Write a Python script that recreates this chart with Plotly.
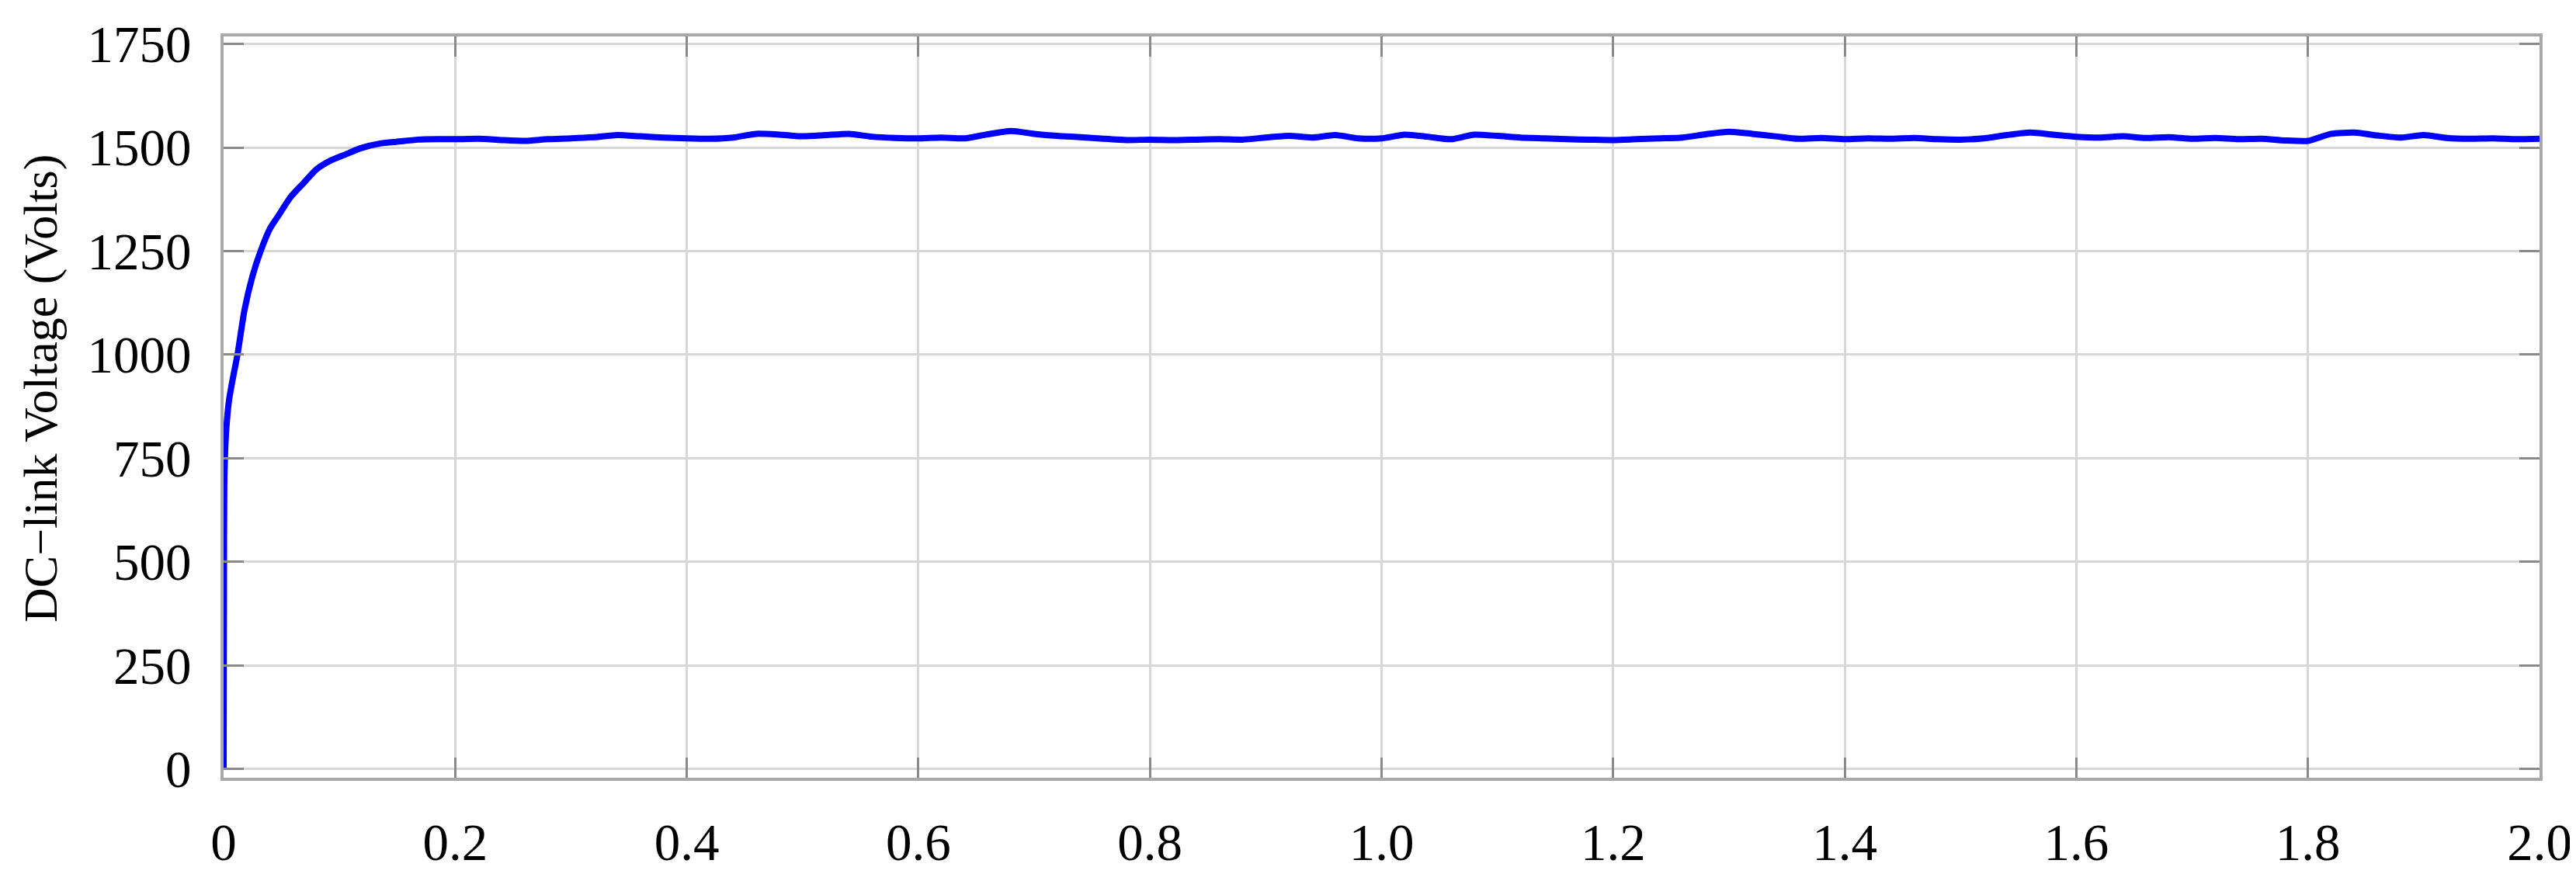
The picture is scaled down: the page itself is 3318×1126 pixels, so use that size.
import plotly.graph_objects as go

# ---- data ----
t_rise = [0, 0.0003, 0.0006, 0.002, 0.0047, 0.0085, 0.012, 0.018, 0.025, 0.032,
          0.040, 0.047, 0.058, 0.069, 0.080, 0.092, 0.105, 0.118, 0.136, 0.150,
          0.168, 0.185]
v_rise = [0, 441, 688, 806, 890, 950, 1000, 1107, 1190, 1250,
          1304, 1334, 1381, 1414, 1447, 1468, 1483, 1498, 1510, 1514,
          1519, 1520]

t_steady = [0.20, 0.22, 0.24, 0.26, 0.28, 0.30, 0.32, 0.34, 0.36, 0.38,
            0.40, 0.42, 0.44, 0.46, 0.48, 0.50, 0.52, 0.54, 0.56, 0.58,
            0.60, 0.62, 0.64, 0.66, 0.68, 0.70, 0.72, 0.74, 0.76, 0.78,
            0.80, 0.82, 0.84, 0.86, 0.88, 0.90, 0.92, 0.94, 0.96, 0.98,
            1.00, 1.02, 1.04, 1.06, 1.08, 1.10, 1.12, 1.14, 1.16, 1.18,
            1.20, 1.22, 1.24, 1.26, 1.28, 1.30, 1.32, 1.34, 1.36, 1.38,
            1.40, 1.42, 1.44, 1.46, 1.48, 1.50, 1.52, 1.54, 1.56, 1.58,
            1.60, 1.62, 1.64, 1.66, 1.68, 1.70, 1.72, 1.74, 1.76, 1.78,
            1.80, 1.82, 1.84, 1.86, 1.88, 1.90, 1.92, 1.94, 1.96, 1.98,
            2.00]
v_steady = [1520, 1521, 1518, 1516, 1520, 1522, 1525, 1530, 1527, 1524,
            1522, 1521, 1524, 1533, 1531, 1527, 1530, 1533, 1526, 1523,
            1522, 1524, 1522, 1532, 1540, 1533, 1528, 1525, 1521, 1518,
            1519, 1518, 1519, 1520, 1519, 1524, 1528, 1524, 1530, 1522,
            1522, 1531, 1526, 1520, 1531, 1528, 1524, 1522, 1520, 1519,
            1518, 1520, 1522, 1524, 1532, 1538, 1533, 1527, 1521, 1523,
            1520, 1522, 1521, 1523, 1520, 1519, 1522, 1530, 1536, 1531,
            1526, 1524, 1527, 1523, 1525, 1521, 1523, 1520, 1521, 1517,
            1516, 1533, 1536, 1529, 1524, 1530, 1523, 1521, 1522, 1520,
            1521]

x_ticks = [0, 0.2, 0.4, 0.6, 0.8, 1.0, 1.2, 1.4, 1.6, 1.8, 2.0]
x_tick_labels = ["0", "0.2", "0.4", "0.6", "0.8", "1.0", "1.2", "1.4", "1.6", "1.8", "2.0"]
y_ticks = [0, 250, 500, 750, 1000, 1250, 1500, 1750]
y_tick_labels = ["0", "250", "500", "750", "1000", "1250", "1500", "1750"]
y_title = "DC\u2212link Voltage (Volts)"

t_all = t_rise + t_steady
v_all = v_rise + v_steady

fig = go.Figure()
fig.add_trace(go.Scatter(x=t_all, y=v_all, mode="lines",
                         line=dict(color="#0000ff", width=8, shape="spline", smoothing=0.6),
                         showlegend=False))

W, H = 3318, 1126
L, R, T, B = 280, 55, 32, 99
font_family = "Liberation Serif, Times New Roman, serif"

axis_common = dict(
    showline=True, mirror="ticks", linecolor="#a8a8a8", linewidth=4,
    showgrid=True, gridcolor="#d8d8d8", gridwidth=3,
    ticks="inside", ticklen=26, tickwidth=3, tickcolor="#8a8a8a",
    tickfont=dict(family=font_family, size=67, color="#000000"),
    zeroline=False,
)

fig.update_xaxes(range=[0, 2], tickmode="array", tickvals=x_ticks,
                 ticktext=x_tick_labels, ticklabelstandoff=22, **axis_common)
fig.update_yaxes(range=[-21.6, 1768], tickmode="array", tickvals=y_ticks,
                 ticktext=y_tick_labels, ticklabelstandoff=24, **axis_common)

fig.add_annotation(text=y_title, xref="paper", yref="paper",
                   x=(45 - L) / (W - L - R), y=(H - B - 505) / (H - T - B),
                   xanchor="center", yanchor="middle", textangle=-90,
                   showarrow=False,
                   font=dict(family=font_family, size=62, color="#000000"))

fig.update_layout(width=W, height=H, autosize=False,
                  margin=dict(l=L, r=R, t=T, b=B, pad=0),
                  paper_bgcolor="#ffffff", plot_bgcolor="#ffffff")

fig.write_html("out.html")
